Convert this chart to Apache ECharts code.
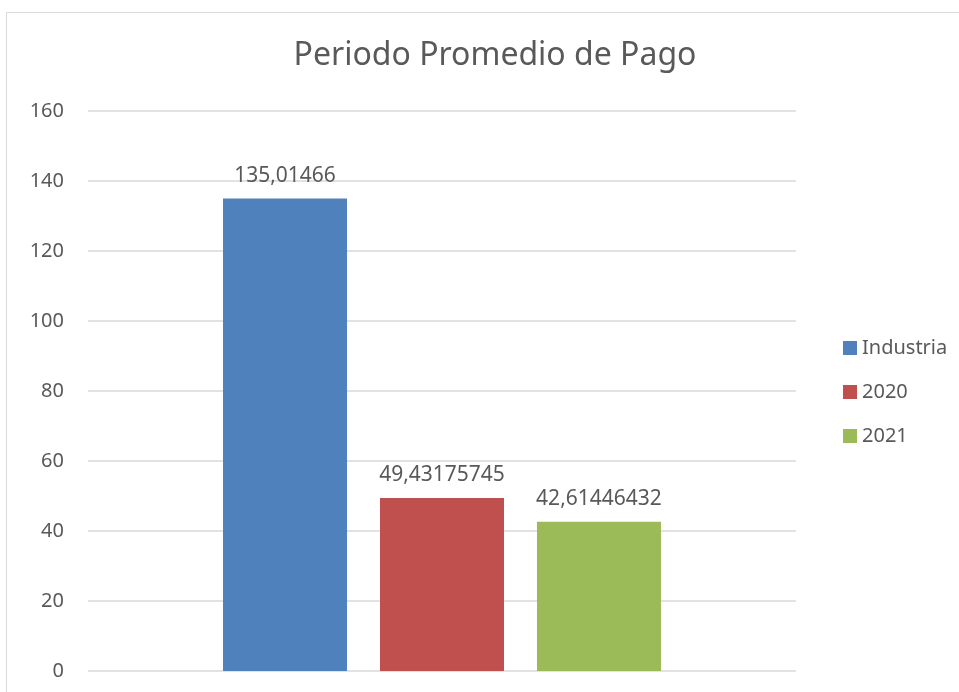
<!DOCTYPE html>
<html>
<head>
<meta charset="utf-8">
<script src="https://cdn.jsdelivr.net/npm/echarts@6/dist/echarts.min.js"></script>
<style>
  html, body { margin: 0; padding: 0; background: #fff; }
  #chart { width: 959px; height: 692px; }
</style>
</head>
<body>
<div id="chart"></div>
<script>
// data
const categories = [''];
const seriesNames = ['Industria', '2020', '2021'];
const values = [135.01466, 49.43175745, 42.61446432];
const colors = ['#4F81BD', '#C0504D', '#9BBB59'];

const chart = echarts.init(document.getElementById('chart'));
const textColor = '#595959';
const font = 'Noto Sans';

const series = seriesNames.map(function (name, i) {
  return {
    name: name,
    type: 'bar',
    data: [values[i]],
    barWidth: 124,
    barGap: '26.6%',
    itemStyle: { color: colors[i] },
    label: {
      show: true,
      position: 'top',
      distance: 12,
      color: textColor,
      fontFamily: font,
      fontSize: 21,
      formatter: function (p) { return String(p.value).replace('.', ','); }
    }
  };
});

chart.setOption({
  animation: false,
  textStyle: { fontFamily: font },
  graphic: [{
    type: 'rect',
    shape: { x: 6.5, y: 12.5, width: 1000, height: 1000 },
    style: { fill: 'none', stroke: '#d9d9d9', lineWidth: 1 },
    silent: true
  }],
  title: {
    text: 'Periodo Promedio de Pago',
    left: 490,
    top: 35,
    textAlign: 'center',
    textStyle: { color: textColor, fontFamily: font, fontSize: 32, fontWeight: 'normal' }
  },
  legend: {
    orient: 'vertical',
    left: 838,
    top: 332,
    itemWidth: 14,
    itemHeight: 14,
    itemGap: 22,
    icon: 'rect',
    textStyle: { color: textColor, fontFamily: font, fontSize: 20, lineHeight: 22 },
    data: seriesNames
  },
  grid: { left: 88, right: 163, top: 111, bottom: 21 },
  xAxis: {
    type: 'category',
    data: categories,
    axisLine: { show: false },
    axisTick: { show: false },
    axisLabel: { show: false }
  },
  yAxis: {
    type: 'value',
    min: 0,
    max: 160,
    interval: 20,
    axisLine: { show: false },
    axisTick: { show: false },
    axisLabel: { color: textColor, fontFamily: font, fontSize: 20, margin: 24 },
    splitLine: { lineStyle: { color: '#d9d9d9', width: 1.5 } }
  },
  series: series
});
</script>
</body>
</html>
